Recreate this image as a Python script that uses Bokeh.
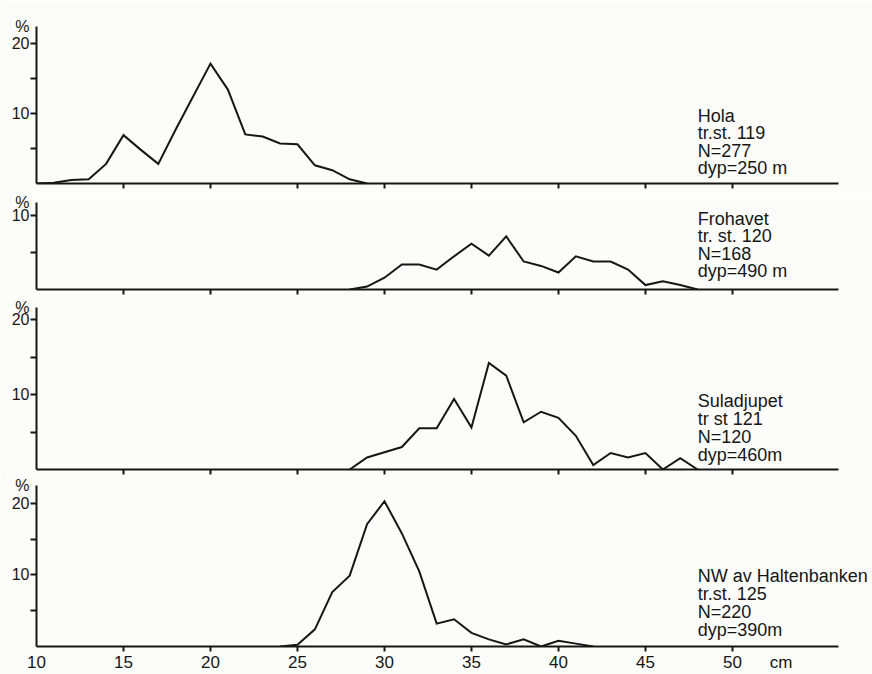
from bokeh.plotting import figure
from bokeh.models import Range1d, FixedTicker, Label
from bokeh.layouts import column
from bokeh.embed import file_html
from bokeh.resources import INLINE

# ---------------- data (length in cm, frequency in %) ----------------
hola_cm = [10, 11, 12, 13, 14, 15, 16, 17, 18, 19, 20, 21, 22, 23, 24, 25, 26, 27, 28, 29]
hola_pct = [0, 0.1, 0.5, 0.6, 2.8, 6.9, 4.8, 2.8, 7.7, 12.4, 17.1, 13.4, 7.0, 6.7, 5.7, 5.6, 2.6, 1.9, 0.6, 0]

frohavet_cm = [28, 29, 30, 31, 32, 33, 34, 35, 36, 37, 38, 39, 40, 41, 42, 43, 44, 45, 46, 47, 48]
frohavet_pct = [0, 0.4, 1.6, 3.4, 3.4, 2.7, 4.5, 6.2, 4.6, 7.2, 3.8, 3.2, 2.3, 4.5, 3.8, 3.8, 2.7, 0.6, 1.1, 0.6, 0]

sula_cm = [28, 29, 30, 31, 32, 33, 34, 35, 36, 37, 38, 39, 40, 41, 42, 43, 44, 45, 46, 47, 48]
sula_pct = [0, 1.6, 2.3, 3.0, 5.5, 5.5, 9.4, 5.6, 14.2, 12.5, 6.3, 7.7, 6.9, 4.5, 0.6, 2.2, 1.6, 2.2, 0, 1.5, 0]

halten_cm = [24, 25, 26, 27, 28, 29, 30, 31, 32, 33, 34, 35, 36, 37, 38, 39, 40, 41, 42]
halten_pct = [0, 0.25, 2.4, 7.6, 9.9, 17.1, 20.3, 15.8, 10.5, 3.2, 3.8, 1.9, 1.0, 0.3, 1.0, 0, 0.8, 0.4, 0]

hola_text = ["Hola", "tr.st. 119", "N=277", "dyp=250 m"]
frohavet_text = ["Frohavet", "tr. st. 120", "N=168", "dyp=490 m"]
sula_text = ["Suladjupet", "tr st 121", "N=120", "dyp=460m"]
halten_text = ["NW av Haltenbanken", "tr.st. 125", "N=220", "dyp=390m"]

x_ticks = [15, 20, 25, 30, 35, 40, 45, 50]
x_labels_bottom = [10, 15, 20, 25, 30, 35, 40, 45, 50]
unit_x = "cm"
unit_x_pos = 52.8
unit_y = "%"

# ---------------- style ----------------
FONT = "Liberation Sans"
INK = "#161616"
BG = "#fcfcfa"
X0, X_AXIS_END, X_VIEW_END = 10, 56.1, 58.05


def panel(xs, ys, y_end, y_labelled, y_marks, height, top, bottom, lines,
          first_y, line_gap, bottom_panel):
    p = figure(width=872, height=height, x_range=Range1d(X0, X_VIEW_END),
               y_range=Range1d(0, y_end), output_backend="svg",
               toolbar_location=None, min_border_left=36, min_border_right=0,
               min_border_top=top, min_border_bottom=bottom)
    p.outline_line_color = None
    p.grid.visible = False
    p.background_fill_color = BG
    p.border_fill_color = BG

    p.line(xs, ys, line_color=INK, line_width=2.0, line_join="miter")

    for ax in (p.xaxis[0], p.yaxis[0]):
        ax.axis_line_color = INK
        ax.axis_line_width = 2
        ax.major_tick_line_color = None      # majors carry labels only
        ax.minor_tick_line_color = INK       # visible marks are minor ticks
        ax.minor_tick_line_width = 2
        ax.major_tick_in = 0
        ax.minor_tick_in = 0
        ax.major_label_text_font = FONT
        ax.major_label_text_color = INK

    ya = p.yaxis[0]
    ya.ticker = FixedTicker(ticks=y_labelled + [y_end], minor_ticks=y_marks)
    ya.major_label_overrides = {y_end: unit_y}
    ya.major_tick_out = 6
    ya.minor_tick_out = 6
    ya.major_label_standoff = 1
    ya.major_label_text_font_size = "16px"

    xa = p.xaxis[0]
    xa.bounds = (X0, X_AXIS_END)
    xa.minor_tick_out = 5
    if bottom_panel:
        xa.ticker = FixedTicker(ticks=x_labels_bottom + [unit_x_pos],
                                minor_ticks=x_ticks)
        xa.major_label_overrides = {unit_x_pos: unit_x}
        xa.major_tick_out = 5
        xa.major_label_standoff = 1
        xa.major_label_text_font_size = "17px"
    else:
        xa.ticker = FixedTicker(ticks=[], minor_ticks=x_ticks)

    for i, t in enumerate(lines):
        p.add_layout(Label(x=48, y=first_y, text=t, text_font=FONT,
                           text_font_size="18px", text_color=INK,
                           text_align="left", text_baseline="middle",
                           y_offset=-line_gap * i))
    return p


p1 = panel(hola_cm, hola_pct, 22.4, [10, 20], [5, 10, 15, 20], 193, 26, 10,
           hola_text, 9.7, 17.5, False)
p2 = panel(frohavet_cm, frohavet_pct, 11.8, [10], [5, 10], 105, 9, 9,
           frohavet_text, 9.6, 17.5, False)
p3 = panel(sula_cm, sula_pct, 21.6, [10, 20], [5, 10, 15, 20], 178, 9, 7,
           sula_text, 9.2, 18, False)
p4 = panel(halten_cm, halten_pct, 22.5, [10, 20], [5, 10, 15, 20], 198, 9, 28,
           halten_text, 9.8, 18, True)

layout = column(p1, p2, p3, p4, spacing=0)

open("out.html", "w").write(file_html(layout, INLINE))
